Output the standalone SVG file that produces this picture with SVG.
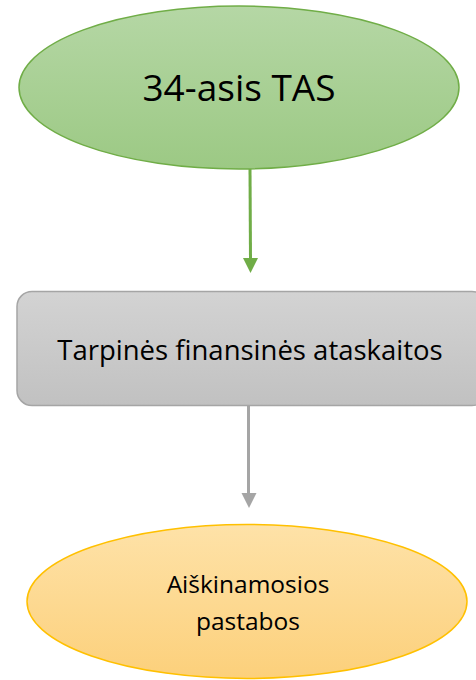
<svg xmlns="http://www.w3.org/2000/svg" width="476" height="680" viewBox="0 0 476 680">
<style>
text{font-family:"Open Sans","Liberation Sans",sans-serif;fill:#000;text-anchor:middle}
</style>
<defs>
<linearGradient id="gG" x1="0" y1="0" x2="0" y2="1"><stop offset="0" stop-color="#b5d7a5"/><stop offset="1" stop-color="#9cc984"/></linearGradient>
<linearGradient id="gR" x1="0" y1="0" x2="0" y2="1"><stop offset="0" stop-color="#d3d3d3"/><stop offset="1" stop-color="#c1c1c1"/></linearGradient>
<linearGradient id="gY" x1="0" y1="0" x2="0" y2="1"><stop offset="0" stop-color="#fee2a8"/><stop offset="1" stop-color="#fcd07b"/></linearGradient>
</defs>
<g id="connectors">
<line x1="250" y1="169" x2="250.5" y2="259" stroke="#70ad47" stroke-width="3"/>
<path d="M243,258 L258,258 L250.5,273 Z" fill="#70ad47"/>
<line x1="248.5" y1="406" x2="248.5" y2="494" stroke="#a5a5a5" stroke-width="3"/>
<path d="M241.5,493 L256.5,493 L249,508 Z" fill="#a5a5a5"/>
</g>
<g id="node-tas">
<ellipse cx="239" cy="87.5" rx="220" ry="81.5" fill="url(#gG)" stroke="#70ad47" stroke-width="1.5"/>
<text x="239" y="101" font-size="37">34-asis TAS</text>
</g>
<g id="node-tarpines">
<rect x="17" y="291.5" width="470" height="114" rx="15" fill="url(#gR)" stroke="#a5a5a5" stroke-width="1.5"/>
<text x="250" y="360" font-size="27.5">Tarpinės finansinės ataskaitos</text>
</g>
<g id="node-pastabos">
<ellipse cx="247" cy="601.5" rx="220" ry="77" fill="url(#gY)" stroke="#ffc000" stroke-width="1.5"/>
<text x="248" y="593" font-size="24.5">Aiškinamosios</text>
<text x="248" y="630" font-size="24.5">pastabos</text>
</g>
</svg>
